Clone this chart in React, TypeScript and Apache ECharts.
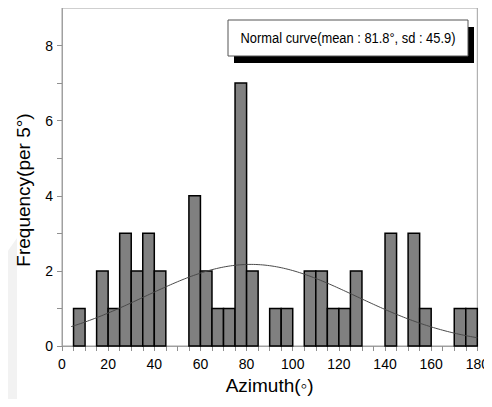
import React, { useEffect, useRef } from "react";
import * as echarts from "echarts";

// Histogram bins (5° wide), identified by their lower edge
const binStarts = [
  0, 5, 10, 15, 20, 25, 30, 35, 40, 45, 50, 55, 60, 65, 70, 75, 80, 85,
  90, 95, 100, 105, 110, 115, 120, 125, 130, 135, 140, 145, 150, 155, 160, 165, 170, 175,
];
const counts = [
  0, 1, 0, 2, 1, 3, 2, 3, 2, 0, 0, 4, 2, 1, 1, 7, 2, 0,
  1, 1, 0, 2, 2, 1, 1, 2, 0, 0, 3, 0, 3, 1, 0, 0, 1, 1,
];
const binWidth = 5;

// Fitted normal curve parameters (as stated in the legend)
const fitMean = 81.8;
const fitSd = 45.9;
const curveFrom = 4;
const curveTo = 180;

const xLabelValues = [0, 20, 40, 60, 80, 100, 120, 140, 160, 180];
const yLabelValues = [0, 2, 4, 6, 8];

const legendText = "Normal curve(mean : 81.8°, sd : 45.9)";
const yTitle = "Frequency(per 5°)";
const xTitle = "Azimuth(◦)";

export default function App() {
  const ref = useRef<HTMLDivElement>(null);

  useEffect(() => {
    if (!ref.current) return;
    const chart = echarts.init(ref.current, undefined, { renderer: "svg" });

    const barData = binStarts
      .map((s, i) => [s, counts[i]])
      .filter((d) => d[1] > 0);

    // Normal density scaled to expected counts per bin
    const total = counts.reduce((a, b) => a + b, 0);
    const curve: number[][] = [];
    for (let x = curveFrom; x <= curveTo; x += 1) {
      const z = (x - fitMean) / fitSd;
      const dens = Math.exp(-0.5 * z * z) / (fitSd * Math.sqrt(2 * Math.PI));
      curve.push([x, total * binWidth * dens]);
    }

    const font = "'Liberation Sans', Arial, sans-serif";

    chart.setOption({
      animation: false,
      backgroundColor: "#fff",
      grid: {
        left: 62,
        right: 12,
        top: 8,
        bottom: 61,
        show: true,
        borderColor: "#a0a0a0",
        borderWidth: 1,
        backgroundColor: "transparent",
      },
      xAxis: {
        type: "value",
        min: 0,
        max: 180,
        interval: 5,
        name: xTitle,
        nameLocation: "middle",
        nameGap: 30,
        nameTextStyle: { fontSize: 19, color: "#000", fontFamily: font },
        axisLine: { lineStyle: { color: "#a0a0a0", width: 1 } },
        axisTick: { show: true, length: 5, lineStyle: { color: "#909090" } },
        axisLabel: {
          color: "#000",
          fontSize: 14,
          fontFamily: font,
          margin: 11,
          showMaxLabel: true,
          formatter: (v: number) => (xLabelValues.includes(v) ? String(v) : ""),
        },
        splitLine: { show: false },
      },
      yAxis: {
        type: "value",
        min: 0,
        max: 9,
        interval: 1,
        axisLine: { show: true, lineStyle: { color: "#a0a0a0", width: 1 } },
        axisTick: { show: true, length: 5, lineStyle: { color: "#909090" } },
        axisLabel: {
          color: "#000",
          fontSize: 14,
          fontFamily: font,
          margin: 9,
          showMaxLabel: false,
          formatter: (v: number) => (yLabelValues.includes(v) ? String(v) : ""),
        },
        splitLine: { show: false },
      },
      series: [
        {
          type: "custom",
          data: barData,
          encode: { x: 0, y: 1 },
          z: 2,
          renderItem: (_params: any, api: any) => {
            const start = api.value(0);
            const h = api.value(1);
            const p0 = api.coord([start, 0]);
            const p1 = api.coord([start + binWidth, h]);
            return {
              type: "rect",
              shape: {
                x: p0[0],
                y: p1[1],
                width: p1[0] - p0[0],
                height: p0[1] - p1[1],
              },
              style: { fill: "#808080", stroke: "#000", lineWidth: 1.5 },
            };
          },
        },
        {
          type: "line",
          data: curve,
          showSymbol: false,
          z: 3,
          lineStyle: { color: "#4a4a4a", width: 1 },
        },
      ],
      graphic: [
        {
          type: "polygon",
          silent: true,
          z: -1,
          shape: { points: [[0, 262], [17, 238], [17, 407], [0, 407]] },
          style: { fill: "#f2f2f2" },
        },
        {
          type: "text",
          z: 5,
          x: 23,
          y: 190,
          rotation: Math.PI / 2,
          style: {
            text: yTitle,
            fill: "#000",
            font: `19px ${font}`,
            align: "center",
            verticalAlign: "middle",
          },
        },
        {
          type: "rect",
          z: 10,
          shape: { x: 234, y: 27, width: 240, height: 36 },
          style: { fill: "#000" },
        },
        {
          type: "rect",
          z: 11,
          shape: { x: 228, y: 20, width: 240, height: 36 },
          style: { fill: "#fff", stroke: "#555", lineWidth: 1 },
        },
        {
          type: "text",
          z: 12,
          x: 348,
          y: 38,
          scaleX: 0.86,
          style: {
            text: legendText,
            fill: "#000",
            font: `15px ${font}`,
            align: "center",
            verticalAlign: "middle",
          },
        },
      ],
    });

    return () => chart.dispose();
  }, []);

  return <div ref={ref} style={{ width: 492, height: 407, margin: -8 }} />;
}
